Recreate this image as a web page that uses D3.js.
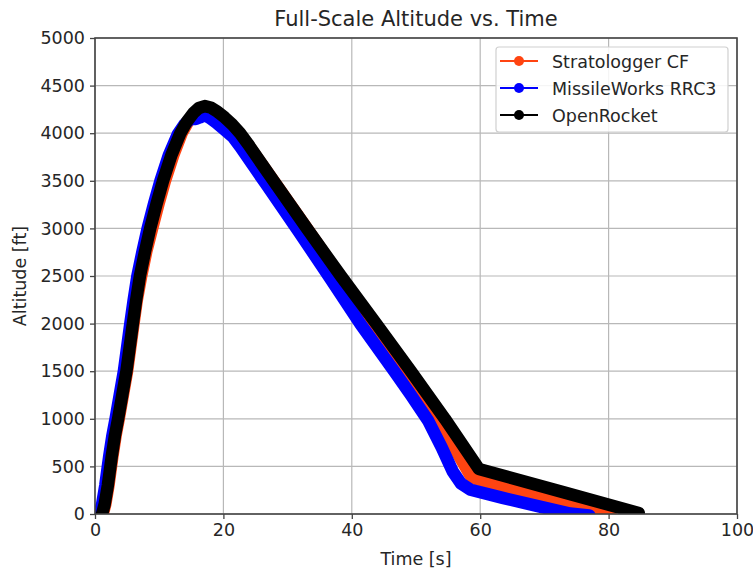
<!DOCTYPE html>
<html>
<head>
<meta charset="utf-8">
<script src="https://cdn.jsdelivr.net/npm/d3@7"></script>
<style>
  html, body { margin: 0; padding: 0; background: #fff; }
  svg { display: block; font-family: "DejaVu Sans", sans-serif; }
</style>
</head>
<body>
<svg id="chart" width="753" height="570"></svg>
<script>
// ---- data ----
const seriesNames = ["Stratologger CF", "MissileWorks RRC3", "OpenRocket"];
const seriesColors = ["#ff4411", "#0000ff", "#000000"];

const stratoTime = [1.2, 1.6, 2.1, 2.7, 3.2, 3.7, 4.4, 5.0, 5.5, 6.0, 6.5, 7.2, 8.0, 8.9, 9.9, 10.9, 12.2, 13.5, 14.5, 15.5, 16.4, 17.3, 18.2, 19.2, 20.4, 21.6, 22.7, 23.9, 28.0, 33.0, 38.1, 43.3, 48.3, 53.3, 57.6, 58.7, 65.0, 72.0, 80.3];
const stratoAlt  = [0, 100, 300, 600, 820, 1000, 1270, 1500, 1750, 2000, 2240, 2500, 2760, 3000, 3260, 3500, 3770, 4000, 4120, 4200, 4250, 4270, 4250, 4205, 4140, 4060, 3980, 3870, 3480, 3000, 2500, 2000, 1500, 1000, 510, 380, 265, 148, 5];

const rrc3Time = [0.6, 1.1, 1.6, 2.2, 2.7, 3.2, 3.9, 4.5, 5.0, 5.5, 6.0, 6.6, 7.4, 8.2, 9.2, 10.2, 11.5, 12.9, 13.9, 14.9, 15.7, 16.3, 17.1, 17.9, 18.9, 20.1, 21.5, 22.6, 26.8, 31.8, 36.6, 41.3, 46.6, 49.2, 51.9, 54.0, 55.7, 57.0, 58.5, 63.5, 69.3, 74.0, 77.0];
const rrc3Alt  = [0, 100, 300, 600, 820, 1000, 1270, 1500, 1750, 2000, 2240, 2500, 2760, 3000, 3260, 3500, 3770, 3990, 4090, 4150, 4150, 4165, 4190, 4160, 4110, 4040, 3960, 3860, 3450, 2960, 2480, 2000, 1500, 1250, 980, 700, 450, 320, 255, 170, 77, 5, -15];

const orTime = [1.1, 1.5, 2.0, 2.6, 3.1, 3.6, 4.3, 4.9, 5.4, 5.9, 6.4, 7.0, 7.8, 8.6, 9.6, 10.6, 11.9, 13.3, 14.3, 15.3, 16.2, 17.1, 18.0, 19.0, 20.2, 21.4, 22.6, 23.8, 27.8, 33.0, 38.3, 43.8, 49.2, 54.5, 59.8, 72.9, 84.7];
const orAlt  = [0, 100, 300, 600, 820, 1000, 1270, 1500, 1750, 2000, 2240, 2500, 2760, 3000, 3260, 3500, 3770, 4000, 4120, 4210, 4265, 4285, 4270, 4230, 4165, 4090, 4000, 3890, 3500, 3000, 2500, 2000, 1500, 1000, 472, 230, 10];

const xTicks = [0, 20, 40, 60, 80, 100];
const yTicks = [0, 500, 1000, 1500, 2000, 2500, 3000, 3500, 4000, 4500, 5000];

const titleText = "Full-Scale Altitude vs. Time";
const xLabelText = "Time [s]";
const yLabelText = "Altitude [ft]";

// ---- layout ----
const L = 95, R = 737, T = 38, B = 514;
const FS = 17.5;

const svg = d3.select("#chart");
const x = d3.scaleLinear().domain([0, 100]).range([L, R]);
const y = d3.scaleLinear().domain([0, 5000]).range([B, T]);

// grid
const grid = svg.append("g");
grid.selectAll(".gx").data(xTicks).enter().append("line")
  .attr("x1", d => x(d)).attr("x2", d => x(d)).attr("y1", T).attr("y2", B)
  .attr("stroke", "#b8b8b8").attr("stroke-width", 1.2);
grid.selectAll(".gy").data(yTicks).enter().append("line")
  .attr("x1", L).attr("x2", R).attr("y1", d => y(d)).attr("y2", d => y(d))
  .attr("stroke", "#b8b8b8").attr("stroke-width", 1.2);

// clip
svg.append("defs").append("clipPath").attr("id", "clip")
  .append("rect").attr("x", L).attr("y", T).attr("width", R - L).attr("height", B - T);

const series = [
  { name: seriesNames[0], color: seriesColors[0], t: stratoTime, a: stratoAlt },
  { name: seriesNames[1], color: seriesColors[1], t: rrc3Time, a: rrc3Alt },
  { name: seriesNames[2], color: seriesColors[2], t: orTime, a: orAlt }
];

const line = d3.line().x(d => x(d[0])).y(d => y(d[1])).curve(d3.curveLinear);
const plot = svg.append("g").attr("clip-path", "url(#clip)");
series.forEach(s => {
  const pts = s.t.map((t, i) => [t, s.a[i]]);
  plot.append("path").datum(pts)
    .attr("d", line)
    .attr("fill", "none")
    .attr("stroke", s.color)
    .attr("stroke-width", 12.5)
    .attr("stroke-linejoin", "round")
    .attr("stroke-linecap", "round");
});

// axes
const xAxis = d3.axisBottom(x).tickValues(xTicks).tickSize(5).tickPadding(5).tickFormat(d3.format("d"));
const yAxis = d3.axisLeft(y).tickValues(yTicks).tickSize(5).tickPadding(5).tickFormat(d3.format("d"));
const gx = svg.append("g").attr("transform", `translate(0,${B})`).call(xAxis);
const gy = svg.append("g").attr("transform", `translate(${L},0)`).call(yAxis);
[gx, gy].forEach(g => {
  g.select(".domain").remove();
  g.selectAll(".tick line").attr("stroke", "#444").attr("stroke-width", 1.3);
  g.selectAll(".tick text").attr("fill", "#262626").style("font-size", FS + "px")
    .style("font-family", "'DejaVu Sans', sans-serif");
});

// frame
svg.append("rect").attr("x", L).attr("y", T).attr("width", R - L).attr("height", B - T)
  .attr("fill", "none").attr("stroke", "#444").attr("stroke-width", 1.6);

// labels
svg.append("text").attr("x", (L + R) / 2).attr("y", 26).attr("text-anchor", "middle")
  .attr("fill", "#262626").style("font-size", "21px").text(titleText);
svg.append("text").attr("x", (L + R) / 2).attr("y", 565).attr("text-anchor", "middle")
  .attr("fill", "#262626").style("font-size", FS + "px").text(xLabelText);
svg.append("text").attr("transform", `translate(26,${(T + B) / 2}) rotate(-90)`)
  .attr("text-anchor", "middle").attr("fill", "#262626").style("font-size", FS + "px").text(yLabelText);

// legend
const lg = svg.append("g");
lg.append("rect").attr("x", 496).attr("y", 47).attr("width", 232).attr("height", 85)
  .attr("rx", 3).attr("fill", "#fff").attr("fill-opacity", 0.85)
  .attr("stroke", "#d0d0d0").attr("stroke-width", 1.2);
series.forEach((s, i) => {
  const cy = 61 + i * 27;
  lg.append("line").attr("x1", 500).attr("x2", 538).attr("y1", cy).attr("y2", cy)
    .attr("stroke", s.color).attr("stroke-width", 2.2);
  lg.append("circle").attr("cx", 519).attr("cy", cy).attr("r", 5).attr("fill", s.color);
  lg.append("text").attr("x", 552).attr("y", cy + 6.5).attr("fill", "#262626")
    .style("font-size", FS + "px").text(s.name);
});
</script>
</body>
</html>
